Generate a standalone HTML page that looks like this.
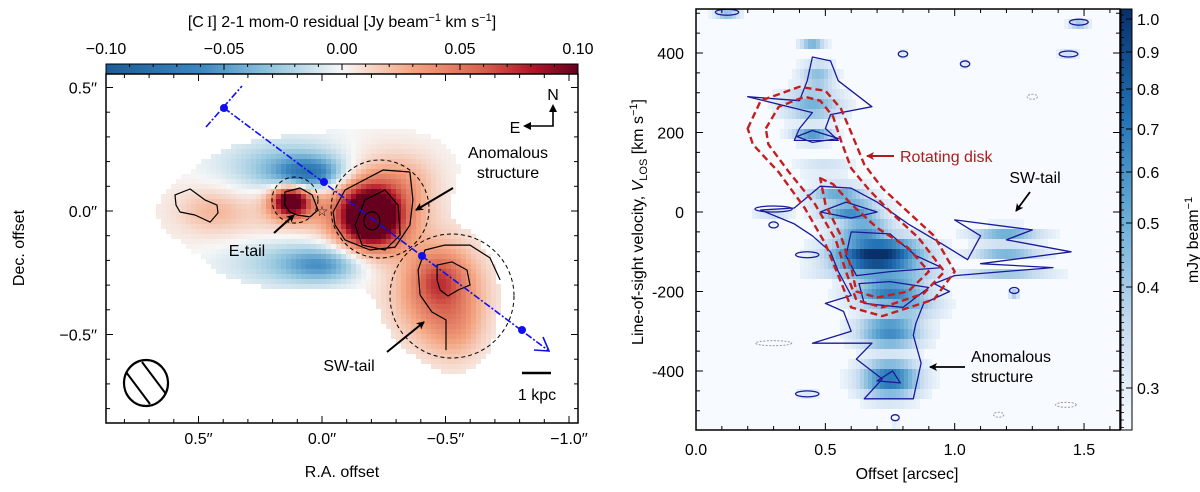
<!DOCTYPE html>
<html><head><meta charset="utf-8"><style>
html,body{margin:0;padding:0;background:#fff}
svg{display:block;font-family:"Liberation Sans",sans-serif}
</style></head><body>
<svg id="fig" width="1200" height="492" viewBox="0 0 1200 492" xmlns="http://www.w3.org/2000/svg">
<defs>
<linearGradient id="rdbu" x1="0" x2="1" y1="0" y2="0">
<stop offset="0" stop-color="#1d5b96"/><stop offset="0.2" stop-color="#3b87c0"/><stop offset="0.35" stop-color="#92c5de"/><stop offset="0.5" stop-color="#f7f7f7"/><stop offset="0.65" stop-color="#f4a582"/><stop offset="0.8" stop-color="#d6604d"/><stop offset="0.9" stop-color="#b2182b"/><stop offset="1" stop-color="#67001f"/>
</linearGradient>
<linearGradient id="blues" x1="0" x2="0" y1="1" y2="0">
<stop offset="0" stop-color="#f7fbff"/><stop offset="0.25" stop-color="#c6dbef"/><stop offset="0.5" stop-color="#6baed6"/><stop offset="0.75" stop-color="#2171b5"/><stop offset="1" stop-color="#08306b"/>
</linearGradient>
<clipPath id="clipL"><rect x="106" y="74" width="472" height="349"/></clipPath>
<clipPath id="clipR"><rect x="696" y="9" width="424" height="421"/></clipPath>
<marker id="arrB" markerWidth="8" markerHeight="8" refX="7" refY="4" orient="auto" markerUnits="userSpaceOnUse"><path d="M0,0 L8,4 L0,8 L2,4 Z" fill="#000"/></marker>
<marker id="arrR" markerWidth="8" markerHeight="8" refX="7" refY="4" orient="auto" markerUnits="userSpaceOnUse"><path d="M0,0 L8,4 L0,8 L2,4 Z" fill="#b01c1c"/></marker>
</defs>
<g id="left"></g>
<g id="right"></g>
</svg>
<script>
// ===== Left panel data =====
const mapRA = [0.15, -0.45, -0.25, 0.12, 0.05, 0.1, 0.0, 0.45, -0.35, 0.12, 0.13, -0.2, -0.2, -0.5, -0.47, -0.55];
const mapDec = [0.0, -0.33, 0.2, 0.17, 0.15, -0.2, -0.22, 0.0, 0.12, 0.04, 0.04, 0.0, -0.03, -0.35, -0.27, -0.5];
const mapRX = [0.45, 0.2, 0.25, 0.27, 0.13, 0.28, 0.14, 0.12, 0.12, 0.09, 0.06, 0.17, 0.11, 0.15, 0.1, 0.1];
const mapRY = [0.17, 0.2, 0.12, 0.11, 0.06, 0.1, 0.06, 0.08, 0.1, 0.07, 0.05, 0.16, 0.11, 0.2, 0.1, 0.12];
const mapVal = [0.015, 0.025, 0.006, -0.04, -0.055, -0.03, -0.035, 0.015, 0.012, 0.07, 0.06, 0.07, 0.09, 0.03, 0.025, 0.012];
const cbTicksL = [-0.10, -0.05, 0.00, 0.05, 0.10];
const cbLabelsL = ["\u22120.10", "\u22120.05", "0.00", "0.05", "0.10"];
const raTicks = [0.5, 0.0, -0.5, -1.0];
const raLabels = ["0.5\u2032\u2032", "0.0\u2032\u2032", "\u22120.5\u2032\u2032", "\u22121.0\u2032\u2032"];
const decTicks = [0.5, 0.0, -0.5];
const decLabels = ["0.5\u2032\u2032", "0.0\u2032\u2032", "\u22120.5\u2032\u2032"];
const contAnomOuter = [[-0.045,-0.004],[-0.093,0.085],[-0.247,0.166],[-0.356,0.158],[-0.368,0.045],[-0.356,-0.057],[-0.296,-0.146],[-0.194,-0.158],[-0.093,-0.117],[-0.053,-0.057]];
const contAnomMid = [[-0.134,-0.057],[-0.174,0.045],[-0.255,0.085],[-0.308,0.024],[-0.316,-0.097],[-0.255,-0.158],[-0.162,-0.138]];
const contETail = [[0.150,0.077],[0.089,0.093],[0.040,0.065],[0.016,0.004],[0.049,-0.024],[0.101,-0.016],[0.130,-0.004],[0.150,0.024]];
const contLeft = [[0.595,0.065],[0.534,0.089],[0.474,0.045],[0.425,0.024],[0.421,-0.008],[0.453,-0.045],[0.514,-0.016],[0.575,-0.004],[0.591,0.024]];
const contSWin = [[-0.466,-0.219],[-0.526,-0.206],[-0.587,-0.239],[-0.599,-0.300],[-0.551,-0.320],[-0.510,-0.344],[-0.478,-0.320],[-0.466,-0.279]];
const contSWout = [[-0.721,-0.279],[-0.680,-0.190],[-0.599,-0.138],[-0.498,-0.138],[-0.417,-0.158],[-0.389,-0.239],[-0.397,-0.340],[-0.445,-0.409],[-0.502,-0.441],[-0.502,-0.563]];

// ===== Right panel data =====
const pvOff = [0.7, 0.6, 0.55, 0.75, 0.75, 0.75, 0.72, 1.2, 1.2, 1.2, 0.45, 0.45, 0.47, 0.45, 0.5, 0.12, 1.48, 1.44, 0.8, 1.04, 1.23, 0.43, 0.3, 0.43, 0.77, 0.3, 0.8, 0.65];
const pvVel = [-110, 0, 40, -200, -300, -420, -160, -60, -100, -150, 270, 190, 340, 420, 110, 495, 470, 390, 390, 365, -205, -465, -40, -115, -525, 0, -240, -50];
const pvWOff = [0.18, 0.12, 0.12, 0.15, 0.13, 0.12, 0.22, 0.14, 0.14, 0.18, 0.12, 0.08, 0.07, 0.05, 0.12, 0.05, 0.04, 0.04, 0.02, 0.02, 0.02, 0.05, 0.02, 0.05, 0.015, 0.08, 0.14, 0.12];
const pvHVel = [50, 35, 30, 45, 50, 50, 18, 22, 16, 12, 45, 15, 40, 12, 14, 10, 10, 10, 8, 8, 8, 8, 8, 8, 8, 8, 25, 40];
const pvInt = [1.0, 0.62, 0.5, 0.68, 0.62, 0.72, 0.55, 0.48, 0.48, 0.42, 0.45, 0.65, 0.4, 0.45, 0.32, 0.4, 0.35, 0.35, 0.3, 0.3, 0.3, 0.3, 0.3, 0.3, 0.3, 0.3, 0.55, 0.6];
const offTicks = [0.0, 0.5, 1.0, 1.5];
const offLabels = ["0.0", "0.5", "1.0", "1.5"];
const velTicks = [400, 200, 0, -200, -400];
const velLabels = ["400", "200", "0", "-200", "-400"];
const cbTicksR = [1.0, 0.9, 0.8, 0.7, 0.6, 0.5, 0.4, 0.3];
const cbLabelsR = ["1.0", "0.9", "0.8", "0.7", "0.6", "0.5", "0.4", "0.3"];
const cbTickYR = [19, 52, 89, 129, 172, 223, 287, 388];
const pvOuter = [[0.48,65],[0.6,60],[0.7,25],[0.82,-30],[0.95,-80],[1.05,-120],[1.1,-60],[1.0,-20],[1.3,-45],[1.2,-70],[1.45,-100],[1.1,-130],[1.38,-140],[1.0,-160],[0.92,-180],[0.98,-200],[0.88,-230],[0.85,-280],[0.84,-310],[0.87,-380],[0.84,-470],[0.65,-470],[0.72,-420],[0.62,-370],[0.68,-330],[0.45,-330],[0.6,-300],[0.57,-250],[0.5,-230],[0.6,-210],[0.55,-150],[0.52,-100],[0.45,-60],[0.38,-30],[0.25,5],[0.38,10]];
const pvUpper = [[0.45,390],[0.52,380],[0.55,330],[0.68,265],[0.52,245],[0.5,210],[0.55,180],[0.38,180],[0.4,210],[0.45,250],[0.2,290],[0.4,280],[0.43,330]];
const pvInner1 = [[0.6,-50],[0.75,-55],[0.85,-110],[0.95,-140],[0.75,-150],[0.62,-160],[0.58,-110]];
const pvInner2 = [[0.63,-180],[0.75,-175],[0.9,-190],[0.8,-240],[0.65,-230]];
const pvInner3 = [[0.48,0],[0.58,25],[0.7,0],[0.6,-15]];
const pvInner4 = [[0.7,-425],[0.76,-400],[0.79,-430]];
const pvInner5 = [[0.39,190],[0.45,205],[0.55,185],[0.45,175]];
const pvDisk1 = [[0.2,210],[0.25,280],[0.4,315],[0.5,305],[0.56,260],[0.6,200],[0.65,120],[0.72,60],[0.82,0],[0.92,-60],[1.0,-150],[0.92,-220],[0.72,-262],[0.6,-240],[0.55,-160],[0.5,-80],[0.42,10],[0.32,100],[0.22,170]];
const pvDisk2 = [[0.27,210],[0.32,265],[0.42,290],[0.48,280],[0.53,240],[0.56,180],[0.6,110],[0.67,55],[0.76,-5],[0.86,-65],[0.96,-150],[0.88,-205],[0.72,-240],[0.62,-222],[0.58,-150],[0.54,-70],[0.46,20],[0.36,100],[0.28,170]];
const pvDisk3 = [[0.48,85],[0.53,70],[0.6,20],[0.7,-40],[0.82,-90],[0.9,-150],[0.82,-200],[0.7,-215],[0.62,-200],[0.6,-140],[0.56,-60],[0.5,20]];
const pvNegOff = [0.3, 1.17, 1.43, 1.3];
const pvNegVel = [-330, -510, -485, 290];
const pvNegW = [0.07, 0.02, 0.04, 0.02];

const NS = "http://www.w3.org/2000/svg";
function mk(tag, attrs, parent){const e=document.createElementNS(NS,tag);for(const k in attrs)e.setAttribute(k,attrs[k]);parent.appendChild(e);return e;}
function txt(s, attrs, parent){const e=mk("text",attrs,parent);e.textContent=s;return e;}

const LX0=106,LX1=578,LY0=74,LY1=423;
const xL = ra => 322 - 247*ra;
const yL = d => 211 - 247*d;
const raOf = x => (322 - x)/247;
const decOf = y => (211 - y)/247;
const cbL = v => LX0 + (v+0.1)/0.2*(LX1-LX0);
function rdbu(v){
  const t=Math.max(0,Math.min(1,(v+0.1)/0.2));
  const st=[[0,[29,91,150]],[0.2,[59,135,192]],[0.35,[146,197,222]],[0.5,[247,247,247]],[0.65,[244,165,130]],[0.8,[214,96,77]],[0.9,[178,24,43]],[1,[103,0,31]]];
  for(let i=1;i<st.length;i++){if(t<=st[i][0]){const a=st[i-1],b=st[i],f=(t-a[0])/(b[0]-a[0]);return "rgb("+a[1].map((c,j)=>Math.round(c+(b[1][j]-c)*f)).join(",")+")";}}
  return "rgb(103,0,31)";
}
function pathFrom(pts, fx, fy, close){return pts.map((p,i)=>(i?"L":"M")+fx(p[0]).toFixed(1)+","+fy(p[1]).toFixed(1)).join(" ")+(close?" Z":"");}

const L=document.getElementById("left");
const cbr=mk("rect",{x:LX0,y:64,width:LX1-LX0,height:10,fill:"url(#rdbu)",stroke:"#000","stroke-width":1},L);


for(let k=-10;k<=10;k++){const x=cbL(k/100);const major=(k%5===0);mk("line",{x1:x,x2:x,y1:64,y2:major?70:67,stroke:"#000","stroke-width":1},L);}
cbTicksL.forEach((v,i)=>{const t=txt(cbLabelsL[i],{x:cbL(v),y:54,"text-anchor":"middle","font-size":16},L);

});
const cbt=txt("",{x:342,y:27,"text-anchor":"middle","font-size":16},L);
cbt.innerHTML='[C\u2009<tspan font-family="Liberation Serif">I</tspan>] 2-1 mom-0 residual [Jy beam<tspan dy="-6" font-size="11">\u22121</tspan><tspan dy="6"> km s</tspan><tspan dy="-6" font-size="11">\u22121</tspan><tspan dy="6">]</tspan>';



const mapG=mk("g",{"clip-path":"url(#clipL)"},L);
const cellG=mk("g",{"shape-rendering":"crispEdges"},mapG);
const CS=5;
for(let y=LY0;y<LY1;y+=CS){for(let x=LX0;x<LX1;x+=CS){
  const ra=raOf(x+CS/2),de=decOf(y+CS/2);let v=0,sup=0;
  for(let i=0;i<mapVal.length;i++){const dx=(ra-mapRA[i])/mapRX[i],dy=(de-mapDec[i])/mapRY[i];const g=Math.exp(-(dx*dx+dy*dy));v+=mapVal[i]*g;sup+=g;}
  if(sup<0.3)continue;
  const r=mk("rect",{x:x,y:y,width:CS,height:CS,fill:rdbu(v)},cellG);
  
  
}}
[[contAnomOuter,true],[contAnomMid,true],[contETail,true],[contLeft,true],[contSWin,true],[contSWout,false]].forEach(c=>{
 const p=mk("path",{d:pathFrom(c[0],xL,yL,c[1]),fill:"none",stroke:"#000","stroke-width":1.2,"stroke-linejoin":"round"},mapG);
 
 });
const ic=mk("ellipse",{cx:xL(-0.202),cy:yL(-0.04),rx:8,ry:9,fill:"none",stroke:"#000","stroke-width":1.2},mapG);


[[295,200,23,"e-tail-aperture"],[380,209,49,"anomalous-aperture"],[452,296,62,"sw-tail-aperture"]].forEach(c=>{
 const e=mk("circle",{cx:c[0],cy:c[1],r:c[2],fill:"none",stroke:"#000","stroke-width":1,"stroke-dasharray":"4,3"},mapG);
 
 });
const sl=mk("line",{x1:224,y1:108,x2:549,y2:351,stroke:"#1010ee","stroke-width":1.6,"stroke-dasharray":"7,2,2,2"},mapG);


const sb=mk("line",{x1:206,y1:127,x2:242,y2:86,stroke:"#1010ee","stroke-width":1.6,"stroke-dasharray":"7,2,2,2"},mapG);


mk("path",{d:"M534,350 L549,351 L543,337",fill:"none",stroke:"#1010ee","stroke-width":1.6},mapG);
[[224,108],[324,182],[422,256],[522,330]].forEach(p=>{const c=mk("circle",{cx:p[0],cy:p[1],r:4,fill:"#1010ee"},mapG);

});
const st=txt("\u2606",{x:322,y:216,"text-anchor":"middle","font-size":14,fill:"#000"},mapG);


mk("path",{d:"M527,126 L553,126 L553,108",fill:"none",stroke:"#000","stroke-width":1.6},L);
mk("path",{d:"M553,104 L549,112 L557,112 Z M523,126 L531,122 L531,130 Z",fill:"#000"},L);
const nt=txt("N",{x:553,y:100,"text-anchor":"middle","font-size":16},L);


const et=txt("E",{x:515,y:133,"text-anchor":"middle","font-size":16},L);


mk("line",{x1:522,x2:551,y1:373,y2:373,stroke:"#000","stroke-width":2.5},L);
const kp=txt("1 kpc",{x:537,y:400,"text-anchor":"middle","font-size":16},L);


const bm=mk("ellipse",{cx:146,cy:383,rx:22,ry:23,fill:"none",stroke:"#000","stroke-width":2.2},L);


mk("line",{x1:126,y1:372,x2:150,y2:404,stroke:"#000","stroke-width":2},L);
mk("line",{x1:142,y1:362,x2:166,y2:394,stroke:"#000","stroke-width":2},L);
const an=txt("",{x:508,y:158,"text-anchor":"middle","font-size":16},L);an.innerHTML='<tspan x="508">Anomalous</tspan><tspan x="508" dy="20">structure</tspan>';


mk("line",{x1:453,y1:188,x2:416,y2:210,stroke:"#000","stroke-width":2,"marker-end":"url(#arrB)"},L);
const etl=txt("E-tail",{x:247,y:256,"text-anchor":"middle","font-size":16},L);


mk("line",{x1:274,y1:233,x2:294,y2:215,stroke:"#000","stroke-width":2,"marker-end":"url(#arrB)"},L);
const swl=txt("SW-tail",{x:349,y:371,"text-anchor":"middle","font-size":16},L);


mk("line",{x1:387,y1:352,x2:424,y2:322,stroke:"#000","stroke-width":2,"marker-end":"url(#arrB)"},L);
const fr=mk("rect",{x:LX0,y:LY0,width:LX1-LX0,height:LY1-LY0,fill:"none",stroke:"#000","stroke-width":1.5},L);


for(let k=-12;k<=9;k++){const v=k/10,x=xL(v);if(x<LX0+1||x>LX1-1)continue;const len=(k%5===0)?7:4;
 mk("line",{x1:x,x2:x,y1:LY1,y2:LY1-len,stroke:"#000"},L);mk("line",{x1:x,x2:x,y1:LY0,y2:LY0+len,stroke:"#000"},L);}
for(let k=-9;k<=6;k++){const v=k/10,y=yL(v);if(y<LY0+1||y>LY1-1)continue;const len=(k%5===0)?7:4;
 mk("line",{x1:LX0,x2:LX0+len,y1:y,y2:y,stroke:"#000"},L);mk("line",{x1:LX1,x2:LX1-len,y1:y,y2:y,stroke:"#000"},L);}
raTicks.forEach((v,i)=>{const t=txt(raLabels[i],{x:xL(v),y:444,"text-anchor":"middle","font-size":16},L);

});
decTicks.forEach((v,i)=>{const t=txt(decLabels[i],{x:97,y:yL(v)+6,"text-anchor":"end","font-size":16},L);

});
const xlt=txt("R.A. offset",{x:342,y:477,"text-anchor":"middle","font-size":16},L);


const ylt=txt("Dec. offset",{x:0,y:0,"text-anchor":"middle","font-size":16,transform:"translate(24,248) rotate(-90)"},L);



const RX0=696,RX1=1120,RY0=9,RY1=430;
const xR = o => 696 + 258.7*o;
const yR = v => 212 - 0.3975*v;
const offOf = x => (x-696)/258.7;
const velOf = y => (212-y)/0.3975;
function blues(t){t=Math.max(0,Math.min(1,t));
 const st=[[0,[247,251,255]],[0.25,[198,219,239]],[0.5,[107,174,214]],[0.75,[33,113,181]],[1,[8,48,107]]];
 for(let i=1;i<st.length;i++){if(t<=st[i][0]){const a=st[i-1],b=st[i],f=(t-a[0])/(b[0]-a[0]);return "rgb("+a[1].map((c,j)=>Math.round(c+(b[1][j]-c)*f)).join(",")+")";}}
 return "rgb(8,48,107)";}
const R=document.getElementById("right");
const pvG=mk("g",{"clip-path":"url(#clipR)"},R);
const bg=mk("rect",{x:RX0,y:RY0,width:RX1-RX0,height:RY1-RY0,fill:"#f7fbff"},pvG);


const pvC=mk("g",{"shape-rendering":"crispEdges"},pvG);
const CW=4, CH=10;
for(let y=RY0;y<RY1;y+=CH){for(let x=RX0;x<RX1;x+=CW){
  const o=offOf(x+CW/2),v=velOf(y+CH/2);let m=0;
  for(let i=0;i<pvInt.length;i++){const dx=(o-pvOff[i])/pvWOff[i],dy=(v-pvVel[i])/pvHVel[i];const g=pvInt[i]*Math.exp(-(dx*dx+dy*dy));if(g>m)m=g;}
  if(m<0.06)continue;
  const r=mk("rect",{x:x,y:y,width:CW,height:CH,fill:blues(m*1.05)},pvC);
  
  
}}
[pvOuter,pvUpper,pvInner1,pvInner2,pvInner3,pvInner4,pvInner5].forEach(c=>{
 const p=mk("path",{d:pathFrom(c,xR,yR,true),fill:"none",stroke:"#1a1a9a","stroke-width":1.3,"stroke-linejoin":"round"},pvG);
 
 });
pvOff.forEach((o,i)=>{if(i<15||i>25)return;const e=mk("ellipse",{cx:xR(o),cy:yR(pvVel[i])-3,rx:Math.max(4,pvWOff[i]*258.7*0.9),ry:3,fill:"none",stroke:"#1a1a9a","stroke-width":1.3},pvG);

});
pvNegOff.forEach((o,i)=>{const e=mk("ellipse",{cx:xR(o),cy:yR(pvNegVel[i]),rx:pvNegW[i]*258.7,ry:2.5,fill:"none",stroke:"#999","stroke-width":1,"stroke-dasharray":"2,1.5"},pvG);

});
[pvDisk1,pvDisk2,pvDisk3].forEach(c=>{
 const p=mk("path",{d:pathFrom(c,xR,yR,true),fill:"none",stroke:"#c41e1e","stroke-width":2.4,"stroke-dasharray":"7,4","stroke-linejoin":"round"},pvG);
 
 });
mk("line",{x1:894,y1:156,x2:867,y2:156,stroke:"#b01c1c","stroke-width":2,"marker-end":"url(#arrR)"},R);
const rd=txt("Rotating disk",{x:900,y:162,"font-size":16,fill:"#b01c1c"},R);


const swr=txt("SW-tail",{x:1035,y:183,"text-anchor":"middle","font-size":16},R);


mk("line",{x1:1030,y1:192,x2:1016,y2:211,stroke:"#000","stroke-width":1.8,"marker-end":"url(#arrB)"},R);
const anr=txt("",{x:971,y:362,"font-size":16},R);anr.innerHTML='<tspan x="971">Anomalous</tspan><tspan x="971" dy="20">structure</tspan>';


mk("line",{x1:965,y1:367,x2:930,y2:367,stroke:"#000","stroke-width":1.8,"marker-end":"url(#arrB)"},R);
const frR=mk("rect",{x:RX0,y:RY0,width:RX1-RX0,height:RY1-RY0,fill:"none",stroke:"#000","stroke-width":1.5},R);


for(let k=0;k<=16;k++){const x=xR(k/10);if(x>RX1-1)continue;const len=(k%5===0)?7:4;
 mk("line",{x1:x,x2:x,y1:RY1,y2:RY1-len,stroke:"#000"},R);mk("line",{x1:x,x2:x,y1:RY0,y2:RY0+len,stroke:"#000"},R);}
for(let v=-500;v<=500;v+=50){const y=yR(v);if(y<RY0+1||y>RY1-1)continue;const len=(v%200===0)?7:4;
 mk("line",{x1:RX0,x2:RX0+len,y1:y,y2:y,stroke:"#000"},R);mk("line",{x1:RX1,x2:RX1-len,y1:y,y2:y,stroke:"#000"},R);}
offTicks.forEach((v,i)=>{const t=txt(offLabels[i],{x:xR(v),y:455,"text-anchor":"middle","font-size":16},R);

});
velTicks.forEach((v,i)=>{const t=txt(velLabels[i],{x:684,y:yR(v)+6,"text-anchor":"end","font-size":16},R);

});
const xrt=txt("Offset [arcsec]",{x:907,y:479,"text-anchor":"middle","font-size":16},R);


const yrt=txt("",{x:0,y:0,"text-anchor":"middle","font-size":16,transform:"translate(643,222) rotate(-90)"},R);
yrt.innerHTML='Line-of-sight velocity, <tspan font-style="italic">V</tspan><tspan font-size="11" dy="4">LOS</tspan><tspan dy="-4"> [km s</tspan><tspan dy="-6" font-size="11">\u22121</tspan><tspan dy="6">]</tspan>';


const cbR=mk("rect",{x:1121,y:RY0,width:11,height:RY1-RY0,fill:"url(#blues)",stroke:"#000","stroke-width":1},R);


for(let y=RY0+6;y<RY1;y+=7.5){mk("line",{x1:1121,x2:1124,y1:y,y2:y,stroke:"#000","stroke-width":0.8},R);}
cbTicksR.forEach((v,i)=>{const y=cbTickYR[i];mk("line",{x1:1132,x2:1126,y1:y,y2:y,stroke:"#000"},R);
 const t=txt(cbLabelsR[i],{x:1137,y:y+6,"font-size":16},R);
 
 });
const cbu=txt("",{x:0,y:0,"text-anchor":"middle","font-size":16,transform:"translate(1198,240) rotate(-90)"},R);
cbu.innerHTML='mJy beam<tspan dy="-6" font-size="11">\u22121</tspan>';


</script>
</body></html>
